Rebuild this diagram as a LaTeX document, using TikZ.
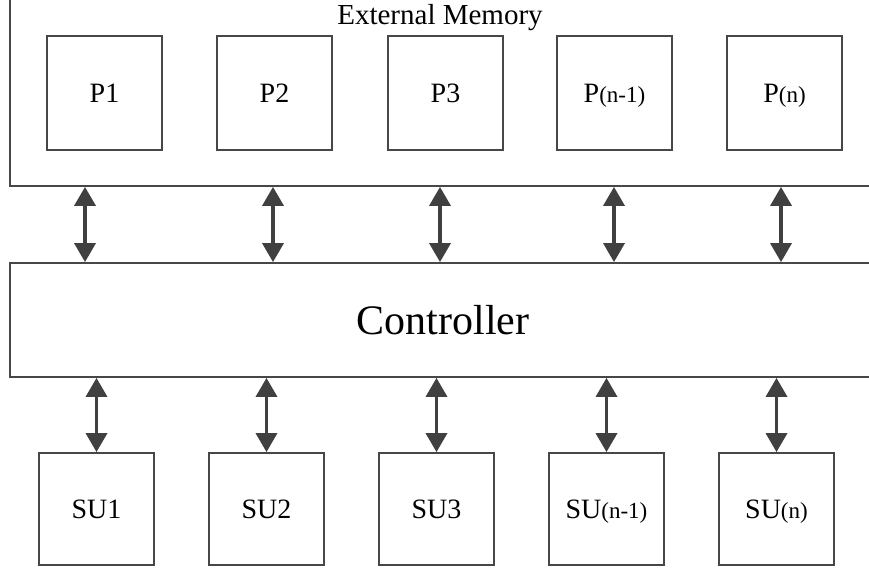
\documentclass[tikz,border=0pt]{standalone}
\usepackage{fontspec}
\setmainfont{Liberation Serif}
\usetikzlibrary{arrows.meta}
\newcommand{\smallpart}{\fontsize{23}{24}\selectfont}

\begin{document}
\begin{tikzpicture}[x=1pt, y=-1pt, every node/.style={align=center, inner sep=0pt}]
      \colorlet{boxborder}{black!72} \colorlet{linkcol}{black!75}
      \tikzset{unit/.style={draw=boxborder, line width=1.8pt, minimum width=115pt, minimum height=114pt,
          text height=19pt, text depth=0pt, font=\fontsize{28}{30}\selectfont},
        link/.style={{Triangle[width=21pt,length=19pt]}-{Triangle[width=21pt,length=19pt]}, draw=linkcol, line width=3.5pt}}
      \useasboundingbox (0,0) rectangle (869,569);
      \clip (0,0) rectangle (869,569);

      \node[draw=boxborder, line width=1.8pt, minimum width=870pt, minimum height=196pt] (mem) at (445,88) {};
      \node[anchor=base, font=\fontsize{29}{30}\selectfont] (memlabel) at (440,25) {External Memory};
      \node[draw=boxborder, line width=1.8pt, minimum width=866pt, minimum height=114pt,
        font=\fontsize{42}{44}\selectfont] (ctrl) at (443,320) {Controller};

      \foreach \x/\t [count=\i] in {104.5/P1, 274.5/P2, 445.5/P3, 614.5/P{\smallpart(n-1)}, 784.5/P{\smallpart(n)}} {
        \node[unit] (p\i) at (\x,93) {\t};
      }
      \foreach \x/\t [count=\i] in {96.5/SU1, 266.5/SU2, 436.5/SU3, 606.5/SU{\smallpart(n-1)}, 776.5/SU{\smallpart(n)}} {
        \node[unit, minimum height=112pt] (su\i) at (\x,509) {\t};
        \draw[link] (su\i.north |- ctrl.south) -- (su\i.north);
      }
      \foreach \x [count=\i] in {85, 273, 440, 614, 781} {
        \coordinate (top\i) at (\x,0);
        \draw[link] (top\i |- mem.south) -- (top\i |- ctrl.north);
      }
    \end{tikzpicture}
\end{document}
